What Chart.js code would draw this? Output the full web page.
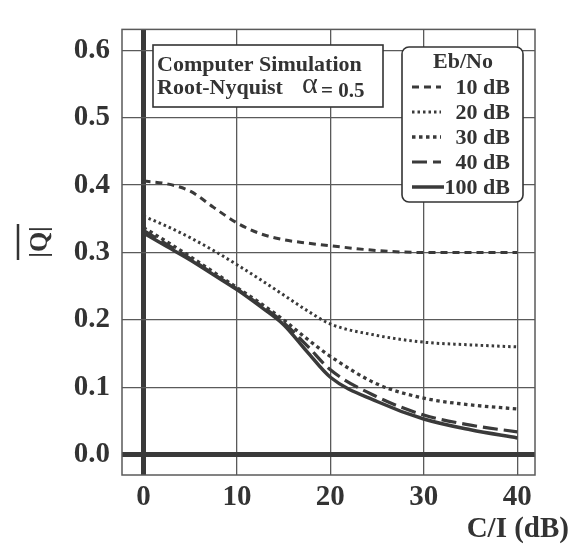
<!DOCTYPE html>
<html>
<head>
<meta charset="utf-8">
<script src="https://cdn.jsdelivr.net/npm/chart.js@4/dist/chart.umd.min.js"></script>
<style>
html,body{margin:0;padding:0;background:#fff;}
#wrap{width:579px;height:544px;position:relative;}
</style>
</head>
<body>
<div id="wrap"><canvas id="c" width="579" height="544"></canvas></div>
<script>
// ---- data ----
const cI   = [0, 2.5, 5, 7.5, 10, 12.5, 15, 17.5, 20, 25, 30, 35, 40];
const q10  = [0.406, 0.402, 0.391, 0.367, 0.344, 0.328, 0.319, 0.314, 0.310, 0.303, 0.300, 0.300, 0.300];
const q20  = [0.354, 0.339, 0.322, 0.303, 0.282, 0.260, 0.237, 0.214, 0.194, 0.177, 0.167, 0.163, 0.160];
const q30  = [0.337, 0.316, 0.294, 0.271, 0.248, 0.225, 0.200, 0.172, 0.146, 0.105, 0.084, 0.074, 0.068];
const q40  = [0.333, 0.312, 0.291, 0.268, 0.246, 0.222, 0.196, 0.162, 0.126, 0.086, 0.059, 0.044, 0.034];
const q100 = [0.329, 0.309, 0.289, 0.267, 0.245, 0.220, 0.193, 0.153, 0.115, 0.079, 0.053, 0.037, 0.025];
const seriesLabels = ['10 dB', '20 dB', '30 dB', '40 dB', '100 dB'];
const xTicks = [0, 10, 20, 30, 40];
const yTicks = [0.0, 0.1, 0.2, 0.3, 0.4, 0.5, 0.6];
const legendTitle = 'Eb/No';
const noteLine1 = 'Computer Simulation';
const noteLine2 = 'Root-Nyquist';
const alphaText = '\u03B1';
const alphaValue = '= 0.5';
const xTitle = 'C/I (dB)';
const yTitle = '|Q|';

// ---- styles ----
const INK = '#333333';
const LINE = '#3a3a3a';
const GRID = '#5a5a5a';
const SERIF = '"Liberation Serif", "DejaVu Serif", serif';
const styles = [
  { dash: [7, 5],  width: 3 },
  { dash: [2.5, 3], width: 3 },
  { dash: [3.5, 3.5], width: 3.3 },
  { dash: [15, 6], width: 3.2 },
  { dash: [],      width: 3.5 }
];
const allSeries = [q10, q20, q30, q40, q100];

const datasets = allSeries.map((arr, i) => ({
  label: seriesLabels[i],
  data: arr.map((v, k) => ({ x: cI[k], y: v })),
  borderColor: LINE,
  borderWidth: styles[i].width,
  borderDash: styles[i].dash,
  pointRadius: 0,
  fill: false,
  cubicInterpolationMode: 'monotone',
  borderCapStyle: 'butt'
}));

const decor = {
  id: 'decor',
  afterDraw(chart) {
    const ctx = chart.ctx;
    const a = chart.chartArea;
    ctx.save();
    // plot frame
    ctx.strokeStyle = GRID;
    ctx.lineWidth = 1.5;
    ctx.strokeRect(a.left, a.top, a.right - a.left, a.bottom - a.top);

    // note box
    ctx.fillStyle = '#fff';
    ctx.fillRect(153, 45, 230, 62);
    ctx.strokeStyle = INK;
    ctx.lineWidth = 1.6;
    ctx.strokeRect(153, 45, 230, 62);
    ctx.fillStyle = INK;
    ctx.textAlign = 'left';
    ctx.textBaseline = 'alphabetic';
    ctx.font = 'bold 22px ' + SERIF;
    ctx.fillText(noteLine1, 157, 71);
    ctx.fillText(noteLine2, 157, 94);
    ctx.font = '30px ' + SERIF;
    ctx.fillText(alphaText, 302, 93);
    ctx.font = 'bold 21px ' + SERIF;
    ctx.fillText(alphaValue, 321, 97);

    // legend box
    ctx.fillStyle = '#fff';
    ctx.strokeStyle = INK;
    ctx.lineWidth = 1.6;
    ctx.beginPath();
    ctx.roundRect(402, 47, 121, 155, 7);
    ctx.fill();
    ctx.stroke();
    ctx.fillStyle = INK;
    ctx.font = 'bold 22px ' + SERIF;
    ctx.textAlign = 'center';
    ctx.fillText(legendTitle, 463, 68);
    chart.data.datasets.forEach((ds, i) => {
      const y = 94 + i * 25;
      ctx.save();
      ctx.strokeStyle = ds.borderColor;
      ctx.lineWidth = ds.borderWidth;
      ctx.setLineDash(ds.borderDash);
      ctx.beginPath();
      ctx.moveTo(412, y - 7);
      ctx.lineTo(i === 4 ? 444 : 441, y - 7);
      ctx.stroke();
      ctx.restore();
      ctx.fillStyle = INK;
      ctx.textAlign = 'right';
      ctx.font = 'bold 22px ' + SERIF;
      ctx.fillText(ds.label, 510, y);
    });

    // axis titles
    ctx.fillStyle = INK;
    ctx.font = 'bold 29px ' + SERIF;
    ctx.textAlign = 'right';
    ctx.fillText(xTitle, 569, 537);

    ctx.save();
    ctx.translate(40, 242);
    ctx.rotate(-Math.PI / 2);
    ctx.font = 'bold 26px ' + SERIF;
    ctx.textAlign = 'center';
    ctx.textBaseline = 'middle';
    ctx.fillText(yTitle, 0, 0);
    ctx.strokeStyle = INK;
    ctx.lineWidth = 2.5;
    ctx.beginPath();
    ctx.moveTo(-18, -22);
    ctx.lineTo(18, -22);
    ctx.stroke();
    ctx.restore();

    ctx.restore();
  }
};

new Chart(document.getElementById('c'), {
  type: 'line',
  data: { datasets },
  options: {
    responsive: false,
    animation: false,
    events: [],
    layout: { padding: { left: 0, right: 44, top: 8, bottom: 0 } },
    plugins: { legend: { display: false }, tooltip: { enabled: false } },
    scales: {
      x: {
        type: 'linear',
        min: -2.3,
        max: 41.9,
        afterBuildTicks: s => { s.ticks = xTicks.map(v => ({ value: v })); },
        afterFit: s => { s.height = 69; },
        border: { display: false },
        grid: {
          drawTicks: false,
          color: c => (c.tick && c.tick.value === 0) ? LINE : GRID,
          lineWidth: c => (c.tick && c.tick.value === 0) ? 5 : 1.3
        },
        ticks: {
          padding: 5,
          color: INK,
          font: { family: SERIF, size: 29, weight: 'bold' },
          callback: v => String(v)
        }
      },
      y: {
        type: 'linear',
        min: -0.03,
        max: 0.631,
        afterBuildTicks: s => { s.ticks = yTicks.map(v => ({ value: v })); },
        afterFit: s => { s.width = 122; },
        border: { display: false },
        grid: {
          drawTicks: false,
          color: c => (c.tick && Math.abs(c.tick.value) < 1e-9) ? LINE : GRID,
          lineWidth: c => (c.tick && Math.abs(c.tick.value) < 1e-9) ? 5 : 1.3
        },
        ticks: {
          padding: 12,
          color: INK,
          font: { family: SERIF, size: 29, weight: 'bold' },
          callback: v => Number(v).toFixed(1)
        }
      }
    }
  },
  plugins: [decor]
});
</script>
</body>
</html>
